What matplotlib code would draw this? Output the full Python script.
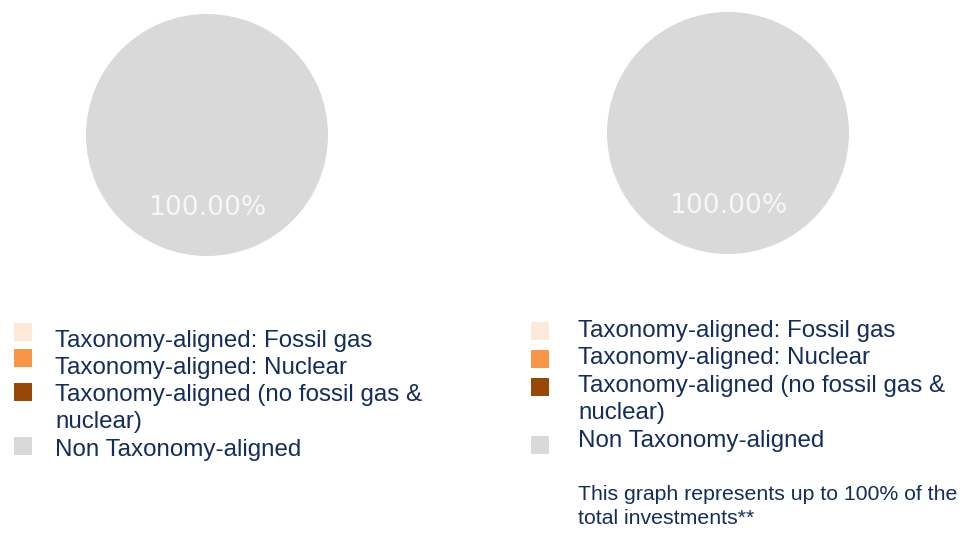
import matplotlib
matplotlib.use("Agg")
import matplotlib.pyplot as plt
from matplotlib.patches import Rectangle

# Shares of total investments (%)
categories = [
    "Taxonomy-aligned: Fossil gas",
    "Taxonomy-aligned: Nuclear",
    "Taxonomy-aligned (no fossil gas &\nnuclear)",
    "Non Taxonomy-aligned",
]
colors = ["#fde9d9", "#f79646", "#974706", "#d9d9d9"]
left_values = [0.0, 0.0, 0.0, 100.0]
right_values = [0.0, 0.0, 0.0, 100.0]
footnote = "This graph represents up to 100% of the\ntotal investments**"

W, H = 963, 540
fig = plt.figure(figsize=(W / 100, H / 100), dpi=100)
fig.patch.set_facecolor("white")

TEXT_COLOR = "#132d5c"
LEGEND_FONT = ["Liberation Sans", "DejaVu Sans"]


def fx(px):
    return px / W


def fy(py):
    return 1 - py / H


def pie_at(cx, cy, r, values):
    ax = fig.add_axes([fx(cx - r), fy(cy + r), 2 * r / W, 2 * r / H])
    ax.pie(
        values,
        colors=colors,
        startangle=90,
        counterclock=False,
        radius=1,
        pctdistance=0.6,
        autopct=lambda p: f"{p:.2f}%" if p > 0 else "",
        textprops=dict(color="#f7f7f7", fontsize=19.2, family="DejaVu Sans"),
        wedgeprops=dict(linewidth=0),
    )
    ax.set_xlim(-1, 1)
    ax.set_ylim(-1, 1)
    ax.set_aspect("auto")
    ax.axis("off")


pie_at(207, 135, 121, left_values)
pie_at(728, 133, 121, right_values)


def legend_at(marker_x, text_x, marker_ys, baselines):
    li = 0
    for i, label in enumerate(categories):
        size = 18
        fig.add_artist(Rectangle((fx(marker_x), fy(marker_ys[i] + size / 2)),
                                 size / W, size / H, transform=fig.transFigure,
                                 facecolor=colors[i], edgecolor="none"))
        for line in label.split("\n"):
            fig.text(fx(text_x), fy(baselines[li]), line, ha="left", va="baseline",
                     fontsize=17.4, color=TEXT_COLOR, family=LEGEND_FONT)
            li += 1


legend_at(14, 55, [332, 358, 392, 446], [347, 374, 401, 428, 456])
legend_at(531, 578, [331, 359, 387, 445], [337, 364, 392, 419, 447])

for k, line in enumerate(footnote.split("\n")):
    fig.text(fx(578), fy(500 + 24 * k), line, ha="left", va="baseline",
             fontsize=15.3, color=TEXT_COLOR, family=LEGEND_FONT)

fig.savefig("out.png", dpi=100, facecolor="white")
